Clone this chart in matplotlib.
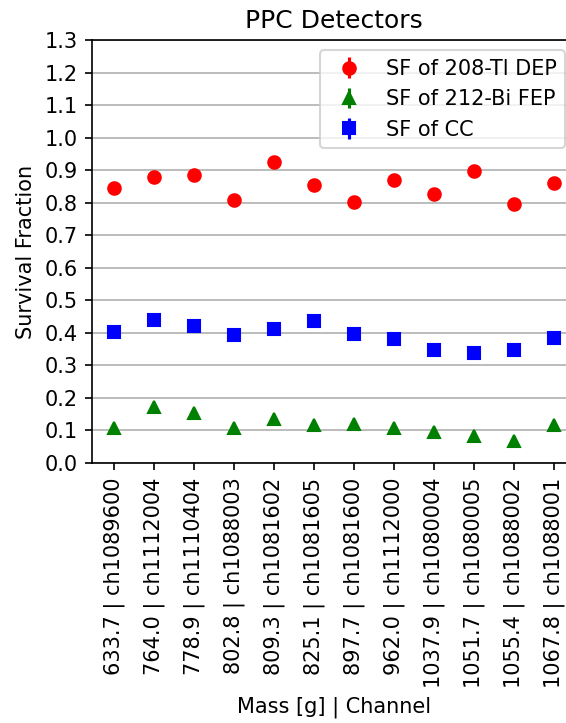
import matplotlib
matplotlib.use("Agg")
import matplotlib.pyplot as plt
import numpy as np

masses = ["633.7", "764.0", "778.9", "802.8", "809.3", "825.1",
          "897.7", "962.0", "1037.9", "1051.7", "1055.4", "1067.8"]
channels = ["ch1089600", "ch1112004", "ch1110404", "ch1088003", "ch1081602", "ch1081605",
            "ch1081600", "ch1112000", "ch1080004", "ch1080005", "ch1088002", "ch1088001"]

sf_dep = [0.846, 0.879, 0.884, 0.809, 0.926, 0.855, 0.803, 0.869, 0.828, 0.897, 0.795, 0.860]
sf_fep = [0.107, 0.171, 0.154, 0.107, 0.134, 0.116, 0.121, 0.107, 0.096, 0.083, 0.069, 0.116]
sf_cc = [0.402, 0.439, 0.420, 0.393, 0.412, 0.436, 0.398, 0.380, 0.347, 0.338, 0.347, 0.384]

err_dep = [0.005] * 12
err_fep = [0.004] * 12
err_cc = [0.003] * 12

labels = [m + " | " + c for m, c in zip(masses, channels)]
x = np.arange(len(labels))

fig = plt.figure(figsize=(566 / 150, 723 / 150), dpi=150)
ax = fig.add_axes([0.1625, 0.3596, 0.855, 0.585])

ax.errorbar(x, sf_dep, yerr=err_dep, fmt="o", color="red", label="SF of 208-Tl DEP")
ax.errorbar(x, sf_fep, yerr=err_fep, fmt="^", color="green", label="SF of 212-Bi FEP")
ax.errorbar(x, sf_cc, yerr=err_cc, fmt="s", color="blue", label="SF of CC")

ax.set_xticks(x)
ax.set_xticklabels(labels, rotation=90)
ax.set_xlim(-0.55, 11.55)
ax.set_ylim(0, 1.3)
ax.set_yticks(np.arange(0, 1.31, 0.1))
ax.grid(axis="y")
ax.set_axisbelow(True)
ax.set_xlabel("Mass [g] | Channel")
ax.set_ylabel("Survival Fraction")
ax.set_title("PPC Detectors")
ax.legend(loc="upper right")

fig.savefig("out.png", dpi=150)
